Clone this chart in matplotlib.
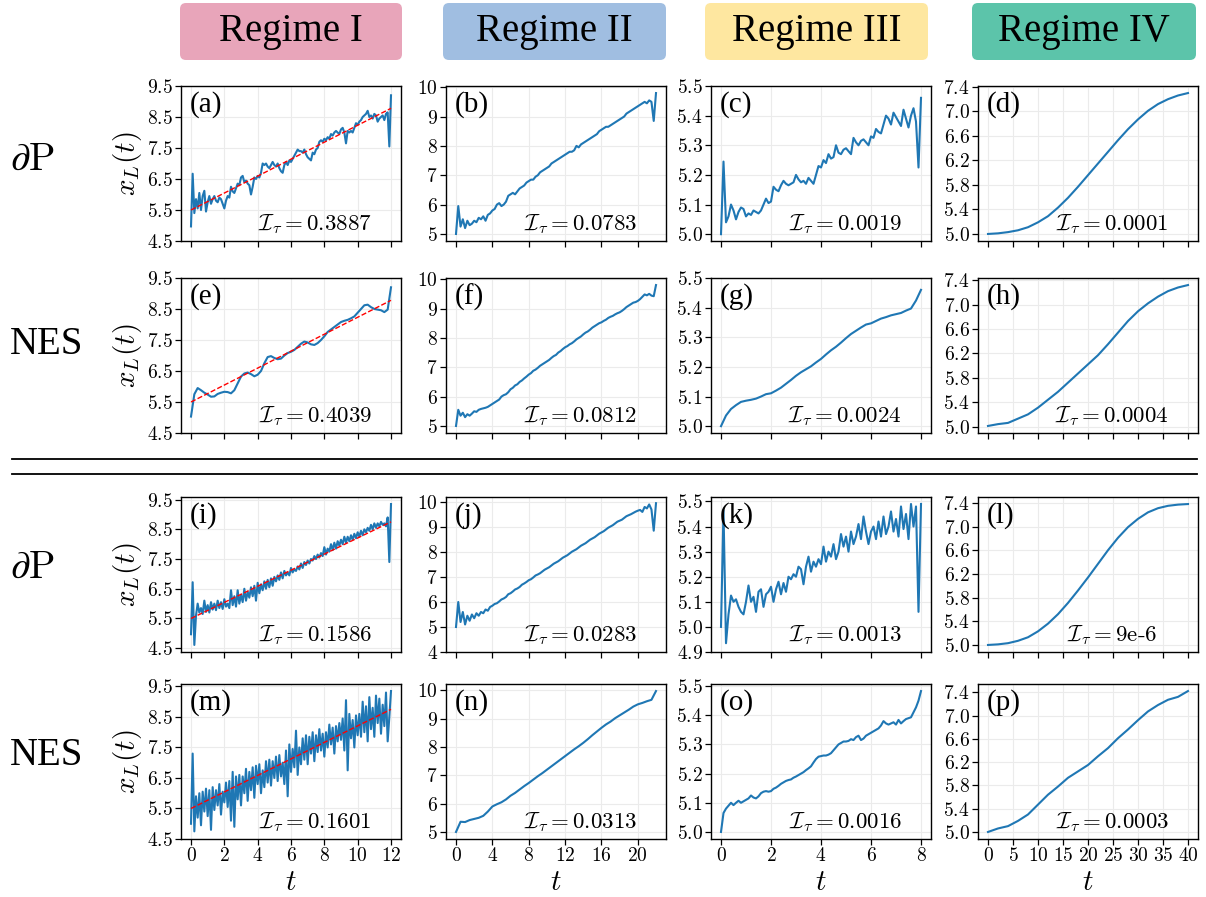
import matplotlib.pyplot as plt
import numpy as np
from matplotlib.patches import FancyBboxPatch
from matplotlib.lines import Line2D

plt.rcParams['mathtext.fontset'] = 'cm'
plt.rcParams['font.family'] = ['Liberation Serif', 'DejaVu Serif']

# ---------------- data ----------------
regimes = ["Regime I", "Regime II", "Regime III", "Regime IV"]
regime_colors = ["#E8A5BA", "#A0BEE1", "#FEE7A0", "#5CC4AA"]
row_names = [r"$\partial\mathrm{P}$", "NES", r"$\partial\mathrm{P}$", "NES"]
tags = list("abcdefghijklmnop")
t_end = [12, 22, 8, 40]

itau = [["0.3887", "0.0783", "0.0019", "0.0001"],
        ["0.4039", "0.0812", "0.0024", "0.0004"],
        ["0.1586", "0.0283", "0.0013", "9e-6"],
        ["0.1601", "0.0313", "0.0016", "0.0003"]]

# red linear fits (start, end) for regime I panels
fit_a = [5.5, 8.78]
fit_e = [5.5, 8.78]
fit_i = [5.5, 8.75]
fit_m = [5.5, 8.75]

a_vals = [4.97, 6.67, 5.40, 5.85, 5.55, 6.05, 5.50, 5.95, 6.12, 5.45,
          5.75, 5.95, 5.70, 5.85, 5.95, 5.80, 5.75, 5.90, 5.85, 5.70,
          5.55, 5.80, 5.95, 5.90, 6.25, 6.10, 6.05, 6.20, 6.35, 6.30,
          6.55, 6.60, 6.40, 6.45, 6.35, 6.30, 6.00, 6.25, 6.55, 6.50,
          6.60, 6.55, 6.70, 7.00, 6.95, 7.00, 6.90, 6.85, 6.95, 7.05,
          6.95, 6.90, 7.00, 6.85, 6.75, 6.70, 6.95, 7.05, 6.95, 7.10,
          7.05, 7.15, 7.25, 7.35, 7.45, 7.40, 7.40, 7.35, 7.45, 7.30,
          7.20, 7.15, 7.10, 7.35, 7.30, 7.45, 7.50, 7.70, 7.75, 7.70,
          7.80, 7.75, 7.85, 7.80, 7.95, 7.90, 8.00, 8.05, 8.00, 7.95,
          8.10, 8.15, 8.00, 7.65, 8.05, 8.00, 8.05, 8.00, 8.15, 8.30,
          8.25, 8.35, 8.40, 8.50, 8.55, 8.60, 8.70, 8.50, 8.55, 8.45,
          8.60, 8.55, 8.35, 8.45, 8.50, 8.55, 8.40, 8.60, 8.65, 7.55,
          9.20]

b_vals = [5.00, 5.95, 5.25, 5.50, 5.20, 5.45, 5.30, 5.35,
          5.45, 5.40, 5.55, 5.50, 5.60, 5.45, 5.65, 5.70,
          5.80, 5.85, 6.00, 6.05, 5.95, 6.00, 6.10, 6.30,
          6.35, 6.40, 6.35, 6.45, 6.55, 6.60, 6.65, 6.75,
          6.80, 6.85, 6.85, 6.95, 7.00, 7.10, 7.15, 7.20,
          7.25, 7.30, 7.40, 7.45, 7.50, 7.55, 7.60, 7.65,
          7.70, 7.75, 7.80, 7.80, 7.85, 8.00, 7.95, 8.05,
          8.10, 8.15, 8.20, 8.25, 8.30, 8.35, 8.40, 8.50,
          8.55, 8.60, 8.65, 8.65, 8.70, 8.75, 8.80, 8.85,
          8.90, 8.95, 9.00, 9.10, 9.15, 9.20, 9.25, 9.30,
          9.35, 9.40, 9.45, 9.50, 9.45, 9.55, 9.50, 8.85,
          9.80]

c_vals = [5.000, 5.245, 5.040, 5.060, 5.100, 5.080, 5.050, 5.075, 5.090, 5.085,
          5.060, 5.070, 5.065, 5.080, 5.075, 5.070, 5.080, 5.100, 5.120, 5.105,
          5.110, 5.160, 5.150, 5.145, 5.165, 5.180, 5.170, 5.165, 5.170, 5.175,
          5.200, 5.185, 5.175, 5.180, 5.170, 5.190, 5.180, 5.170, 5.200, 5.230,
          5.225, 5.250, 5.240, 5.270, 5.255, 5.260, 5.300, 5.275, 5.270, 5.285,
          5.290, 5.280, 5.270, 5.325, 5.310, 5.300, 5.315, 5.320, 5.310, 5.300,
          5.330, 5.325, 5.355, 5.345, 5.340, 5.370, 5.400, 5.390, 5.370, 5.410,
          5.395, 5.380, 5.365, 5.420, 5.390, 5.360, 5.400, 5.425, 5.380, 5.225,
          5.460]

d_vals = [5.00, 5.01, 5.03, 5.06, 5.11, 5.19, 5.29, 5.43, 5.59, 5.77, 5.96,
          6.15, 6.34, 6.53, 6.71, 6.87, 7.01, 7.12, 7.20, 7.26, 7.30]

e_vals = [5.03, 5.75, 5.95, 5.88, 5.80, 5.74, 5.67, 5.68, 5.76, 5.80,
          5.83, 5.82, 5.78, 5.88, 6.10, 6.32, 6.42, 6.45, 6.40, 6.33,
          6.38, 6.50, 6.75, 6.95, 6.98, 6.92, 6.88, 6.90, 7.00, 7.08,
          7.12, 7.18, 7.28, 7.38, 7.45, 7.42, 7.36, 7.34, 7.40, 7.50,
          7.62, 7.76, 7.84, 7.92, 8.00, 8.08, 8.12, 8.15, 8.20, 8.26,
          8.38, 8.50, 8.62, 8.64, 8.56, 8.50, 8.48, 8.46, 8.40, 8.48,
          9.20]

f_vals = [5.00, 5.55, 5.35, 5.45, 5.30, 5.40, 5.35, 5.42,
          5.50, 5.48, 5.55, 5.58, 5.60, 5.62, 5.65, 5.70,
          5.75, 5.80, 5.85, 5.90, 6.00, 6.05, 6.08, 6.15,
          6.25, 6.30, 6.38, 6.42, 6.50, 6.55, 6.62, 6.68,
          6.75, 6.80, 6.88, 6.92, 6.98, 7.05, 7.10, 7.15,
          7.20, 7.25, 7.32, 7.38, 7.42, 7.50, 7.55, 7.62,
          7.68, 7.72, 7.78, 7.82, 7.88, 7.95, 8.00, 8.05,
          8.12, 8.18, 8.22, 8.28, 8.35, 8.40, 8.45, 8.50,
          8.53, 8.58, 8.62, 8.68, 8.72, 8.75, 8.80, 8.84,
          8.87, 8.92, 8.98, 9.05, 9.10, 9.15, 9.20, 9.22,
          9.26, 9.32, 9.40, 9.48, 9.45, 9.50, 9.44, 9.42,
          9.80]

g_vals = [5.000, 5.036, 5.058, 5.071, 5.082, 5.086, 5.089, 5.093, 5.100, 5.108,
          5.111, 5.120, 5.130, 5.143, 5.156, 5.170, 5.182, 5.192, 5.202, 5.215,
          5.227, 5.242, 5.256, 5.268, 5.282, 5.297, 5.311, 5.322, 5.333, 5.343,
          5.347, 5.355, 5.363, 5.368, 5.374, 5.378, 5.382, 5.390, 5.397, 5.424,
          5.460]

h_vals = [5.01, 5.04, 5.06, 5.13, 5.20, 5.31, 5.44, 5.57, 5.72, 5.87, 6.02,
          6.17, 6.35, 6.54, 6.73, 6.89, 7.02, 7.13, 7.22, 7.28, 7.32]

i_vals = [4.97, 6.72, 4.61, 5.60, 6.00, 5.70, 5.85, 5.65, 6.10, 5.72,
          5.95, 5.70, 6.05, 5.80, 6.00, 5.78, 6.10, 5.85, 6.05, 5.82,
          6.15, 5.90, 6.00, 5.85, 6.45, 5.95, 6.25, 5.90, 6.45, 6.00,
          6.30, 6.05, 6.50, 6.10, 6.40, 6.20, 6.55, 6.25, 6.60, 6.10,
          6.70, 6.35, 6.65, 6.45, 6.75, 6.50, 6.80, 6.55, 6.85, 6.60,
          6.90, 6.75, 6.95, 6.80, 7.05, 6.85, 7.10, 6.95, 7.05, 6.95,
          7.20, 7.05, 7.15, 7.10, 7.25, 7.15, 7.35, 7.20, 7.40, 7.30,
          7.45, 7.35, 7.50, 7.45, 7.60, 7.50, 7.65, 7.55, 7.70, 7.60,
          7.90, 7.65, 7.85, 7.75, 8.00, 7.80, 8.05, 7.85, 8.10, 7.95,
          8.15, 8.00, 8.25, 8.05, 8.25, 8.10, 8.30, 8.15, 8.35, 8.20,
          8.40, 8.25, 8.45, 8.30, 8.50, 8.40, 8.55, 8.45, 8.65, 8.50,
          8.70, 8.55, 8.70, 8.60, 8.75, 8.65, 8.70, 8.60, 8.90, 7.40,
          9.35]

j_vals = [5.00, 6.00, 5.20, 5.60, 5.10, 5.45, 5.25, 5.50,
          5.35, 5.55, 5.45, 5.60, 5.55, 5.70, 5.65, 5.80,
          5.85, 5.92, 5.95, 6.02, 6.10, 6.14, 6.20, 6.31,
          6.35, 6.42, 6.50, 6.54, 6.60, 6.69, 6.74, 6.80,
          6.87, 6.91, 6.98, 7.06, 7.10, 7.15, 7.22, 7.29,
          7.34, 7.39, 7.46, 7.53, 7.58, 7.63, 7.70, 7.77,
          7.82, 7.87, 7.94, 8.01, 8.06, 8.11, 8.18, 8.25,
          8.30, 8.35, 8.42, 8.49, 8.54, 8.59, 8.66, 8.73,
          8.78, 8.83, 8.90, 8.97, 9.02, 9.07, 9.14, 9.21,
          9.25, 9.29, 9.36, 9.43, 9.47, 9.51, 9.56, 9.61,
          9.65, 9.68, 9.60, 9.80, 9.74, 9.90, 9.70, 8.85,
          9.95]

k_vals = [5.000, 5.465, 4.935, 5.050, 5.125, 5.100, 5.110, 5.080, 5.060, 5.050,
          5.100, 5.165, 5.100, 5.120, 5.060, 5.140, 5.150, 5.080, 5.130, 5.140,
          5.160, 5.100, 5.150, 5.180, 5.130, 5.175, 5.140, 5.200, 5.190, 5.210,
          5.200, 5.240, 5.230, 5.170, 5.240, 5.280, 5.220, 5.260, 5.240, 5.270,
          5.250, 5.320, 5.260, 5.300, 5.280, 5.330, 5.270, 5.300, 5.370, 5.320,
          5.360, 5.300, 5.380, 5.330, 5.360, 5.410, 5.350, 5.440, 5.380, 5.330,
          5.380, 5.400, 5.350, 5.420, 5.360, 5.440, 5.370, 5.400, 5.460, 5.380,
          5.430, 5.360, 5.480, 5.390, 5.450, 5.350, 5.490, 5.400, 5.480, 5.060,
          5.490]

l_vals = [5.00, 5.01, 5.03, 5.07, 5.13, 5.23, 5.36, 5.52, 5.71, 5.92, 6.14,
          6.37, 6.60, 6.81, 6.99, 7.13, 7.24, 7.31, 7.35, 7.37, 7.38]

m_vals = [5.00, 7.30, 4.75, 5.90, 5.20, 6.00, 4.95, 6.05, 5.40, 6.15,
          5.25, 6.10, 4.80, 6.20, 5.45, 6.10, 5.60, 6.30, 5.30, 6.05,
          5.70, 6.35, 5.55, 6.40, 5.10, 6.70, 4.90, 6.55, 5.80, 6.60,
          5.60, 6.55, 6.00, 6.80, 5.75, 6.70, 6.10, 6.85, 5.85, 6.90,
          6.30, 6.95, 6.00, 6.75, 6.20, 7.05, 6.35, 7.10, 6.25, 7.05,
          6.50, 7.20, 6.40, 7.25, 6.55, 7.00, 6.30, 7.40, 5.90, 7.60,
          6.70, 7.45, 6.85, 8.05, 6.60, 7.50, 6.95, 7.80, 7.10, 7.90,
          6.95, 7.85, 7.30, 8.00, 7.05, 7.90, 7.35, 8.10, 7.40, 7.95,
          7.20, 8.00, 7.50, 8.25, 7.60, 8.15, 7.30, 8.20, 7.70, 8.30,
          7.75, 8.45, 7.40, 9.05, 6.75, 8.60, 7.80, 8.40, 7.50, 8.55,
          7.90, 8.60, 7.85, 9.00, 8.00, 8.85, 7.70, 9.15, 8.10, 8.80,
          7.85, 9.20, 8.30, 9.10, 7.95, 8.90, 8.20, 9.30, 7.70, 8.50,
          9.35]

n_vals = [5.00, 5.36, 5.35, 5.42, 5.46, 5.50, 5.57, 5.72, 5.90, 5.98, 6.05,
          6.15, 6.28, 6.38, 6.50, 6.62, 6.73, 6.85, 6.97, 7.08, 7.20, 7.32,
          7.44, 7.56, 7.68, 7.80, 7.92, 8.03, 8.15, 8.28, 8.42, 8.55, 8.68,
          8.80, 8.90, 9.02, 9.12, 9.22, 9.32, 9.43, 9.51, 9.56, 9.62, 9.67,
          9.98]

o_vals = [5.000, 5.065, 5.080, 5.090, 5.100, 5.092, 5.100, 5.107, 5.100, 5.105,
          5.110, 5.115, 5.125, 5.118, 5.115, 5.122, 5.133, 5.138, 5.140, 5.138,
          5.140, 5.148, 5.152, 5.158, 5.165, 5.170, 5.175, 5.178, 5.180, 5.186,
          5.190, 5.195, 5.200, 5.205, 5.212, 5.218, 5.225, 5.238, 5.250, 5.258,
          5.260, 5.262, 5.262, 5.265, 5.270, 5.280, 5.290, 5.300, 5.305, 5.310,
          5.310, 5.312, 5.318, 5.315, 5.325, 5.330, 5.315, 5.320, 5.330, 5.335,
          5.340, 5.345, 5.350, 5.355, 5.365, 5.380, 5.372, 5.368, 5.372, 5.376,
          5.368, 5.384, 5.372, 5.380, 5.387, 5.390, 5.393, 5.410, 5.427, 5.450,
          5.483]

p_vals = [5.00, 5.06, 5.10, 5.19, 5.30, 5.47, 5.64, 5.78, 5.93, 6.04, 6.15,
          6.30, 6.44, 6.61, 6.76, 6.92, 7.07, 7.18, 7.27, 7.32, 7.42]

series = [[a_vals, b_vals, c_vals, d_vals],
          [e_vals, f_vals, g_vals, h_vals],
          [i_vals, j_vals, k_vals, l_vals],
          [m_vals, n_vals, o_vals, p_vals]]
fits = [fit_a, fit_e, fit_i, fit_m]

xticks = [[0, 2, 4, 6, 8, 10, 12], [0, 4, 8, 12, 16, 20],
          [0, 2, 4, 6, 8], [0, 5, 10, 15, 20, 25, 30, 35, 40]]
yticks_c1 = [4.5, 5.5, 6.5, 7.5, 8.5, 9.5]
yticks_c2 = [5, 6, 7, 8, 9, 10]
yticks_c2_low = [4, 5, 6, 7, 8, 9, 10]
yticks_c3 = [5.0, 5.1, 5.2, 5.3, 5.4, 5.5]
yticks_c3_low = [4.9, 5.0, 5.1, 5.2, 5.3, 5.4, 5.5]
yticks_c4 = [5.0, 5.4, 5.8, 6.2, 6.6, 7.0, 7.4]

# ---------------- layout ----------------
W, H = 1206, 897
fig = plt.figure(figsize=(W / 100, H / 100), dpi=100)

col_left = [181, 446, 711, 978]
ax_w = 220
row_top = [86, 278, 497, 684]
ax_h = 155

blue = "#1f77b4"

for r in range(4):
    for c in range(4):
        ax = fig.add_axes([col_left[c] / W, 1 - (row_top[r] + ax_h) / H,
                           ax_w / W, ax_h / H])
        vals = series[r][c]
        t = np.linspace(0, t_end[c], len(vals))
        ax.plot(t, vals, color=blue, lw=1.5, zorder=3)
        if c == 0:
            ax.plot([0, t_end[0]], fits[r], color="red", ls="--", lw=1.0, zorder=4)

        # ticks
        if c == 0:
            yt, fmt = yticks_c1, "{:.1f}"
        elif c == 1:
            yt, fmt = (yticks_c2_low if r == 2 else yticks_c2), "{:d}"
        elif c == 2:
            yt, fmt = (yticks_c3_low if r == 2 else yticks_c3), "{:.1f}"
        else:
            yt, fmt = yticks_c4, "{:.1f}"
        ax.set_yticks(yt)
        ax.set_yticklabels(["$" + fmt.format(v) + "$" for v in yt], fontsize=14)
        ax.set_xticks(xticks[c])
        if r == 3:
            ax.set_xticklabels(["$%d$" % v for v in xticks[c]], fontsize=14)
            ax.set_xlabel("$t$", fontsize=21, labelpad=3)
        else:
            ax.set_xticklabels([])
        if c == 0:
            ax.set_ylabel("$x_L(t)$", fontsize=21, labelpad=2)

        ax.tick_params(direction="out", length=4, width=0.9, pad=2)
        ax.grid(True, color="#ebebeb", lw=0.8, zorder=0)
        ax.set_axisbelow(True)
        for s in ax.spines.values():
            s.set_linewidth(1.0)

        ax.text(0.04, 0.965, "(%s)" % tags[4 * r + c], transform=ax.transAxes,
                fontsize=21, ha="left", va="top")
        lab = itau[r][c]
        if "e" in lab:
            txt = r"$\mathcal{I}_\tau = $" + lab
        else:
            txt = r"$\mathcal{I}_\tau = " + lab + "$"
        ax.text(0.61, 0.03, txt, transform=ax.transAxes, fontsize=16.5,
                ha="center", va="bottom", family="cmr10")

# row labels
row_center = [160, 345, 568, 755]
for r in range(4):
    fig.text(10 / W, 1 - row_center[r] / H, row_names[r], fontsize=28,
             ha="left", va="center")

# regime headers
box_x = [180, 443, 705, 972]
box_w = [222, 223, 223, 224]
box_y0, box_y1 = 3, 60
for k in range(4):
    patch = FancyBboxPatch((box_x[k] / 100, (H - box_y1) / 100),
                           box_w[k] / 100, (box_y1 - box_y0) / 100,
                           boxstyle="round,pad=0,rounding_size=0.06",
                           transform=fig.dpi_scale_trans,
                           facecolor=regime_colors[k], edgecolor="none")
    fig.patches.append(patch)
    fig.text((box_x[k] + box_w[k] / 2) / W, 1 - (box_y0 + box_y1) / 2 / H,
             regimes[k], fontsize=28, ha="center", va="center")

# separator lines
for yy in [459, 474]:
    fig.add_artist(Line2D([12 / W, 1197 / W], [1 - yy / H, 1 - yy / H],
                          transform=fig.transFigure, color="black", lw=1.3))

fig.savefig("out.png", dpi=100)
